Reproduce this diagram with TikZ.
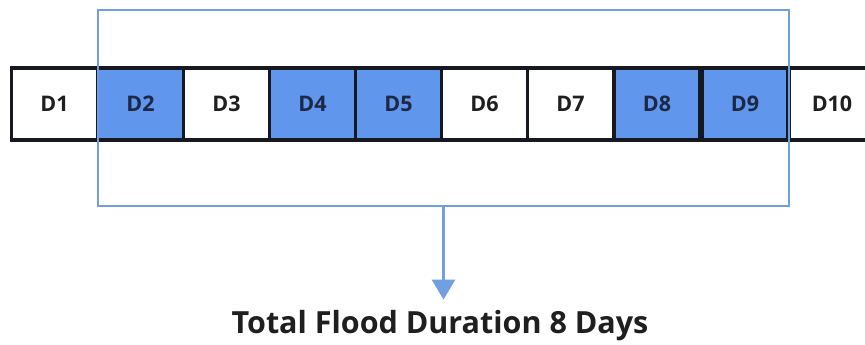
\documentclass[tikz,border=0pt]{standalone}
\usepackage{fontspec}
\setmainfont{Open Sans}
\usetikzlibrary{arrows.meta}
\definecolor{cellblue}{RGB}{96,150,235}
\definecolor{frameblue}{RGB}{112,160,226}
\definecolor{cellline}{RGB}{22,24,34}
\definecolor{navytext}{RGB}{28,40,70}
\begin{document}
\begin{tikzpicture}[x=1pt,y=-1pt,
  cell/.style={draw=cellline,line width=3.2pt,minimum width=86pt,minimum height=72pt,inner sep=0pt,font=\fontsize{21.5}{24}\selectfont\bfseries,text=black!88},
  wet/.style={cell,fill=cellblue,text=navytext},
  dry/.style={cell,fill=white},
  frame/.style={draw=frameblue,line width=2.8pt,minimum width=691pt,minimum height=196pt,inner sep=0pt},
  flow/.style={draw=frameblue,line width=3pt,-{Triangle[length=20pt,width=23pt]}}]
\useasboundingbox (0,0) rectangle (865,345);
\clip (0,0) rectangle (865,345);
\fill[white] (0,0) rectangle (865,345);
\node[dry] (d1) at (54.5,104) {D1};
\node[wet] (d2) at (140.5,104) {D2};
\node[dry] (d3) at (226.5,104) {D3};
\node[wet] (d4) at (312.5,104) {D4};
\node[wet] (d5) at (398.5,104) {D5};
\node[dry] (d6) at (484.5,104) {D6};
\node[dry] (d7) at (570.5,104) {D7};
\node[wet] (d8) at (657,104) {D8};
\node[wet] (d9) at (745,104) {D9};
\node[dry] (d10) at (832,104) {D10};
\node[frame] (fr) at (443.5,108) {};
\node[font=\fontsize{30.5}{34}\selectfont\bfseries,text=black!88,inner sep=0pt] (total) at (440,326) {Total Flood Duration 8 Days};
\coordinate (tip) at ([yshift=11pt]fr.south |- total.north);
\draw[flow] (fr.south) -- (tip);
\end{tikzpicture}
\end{document}
